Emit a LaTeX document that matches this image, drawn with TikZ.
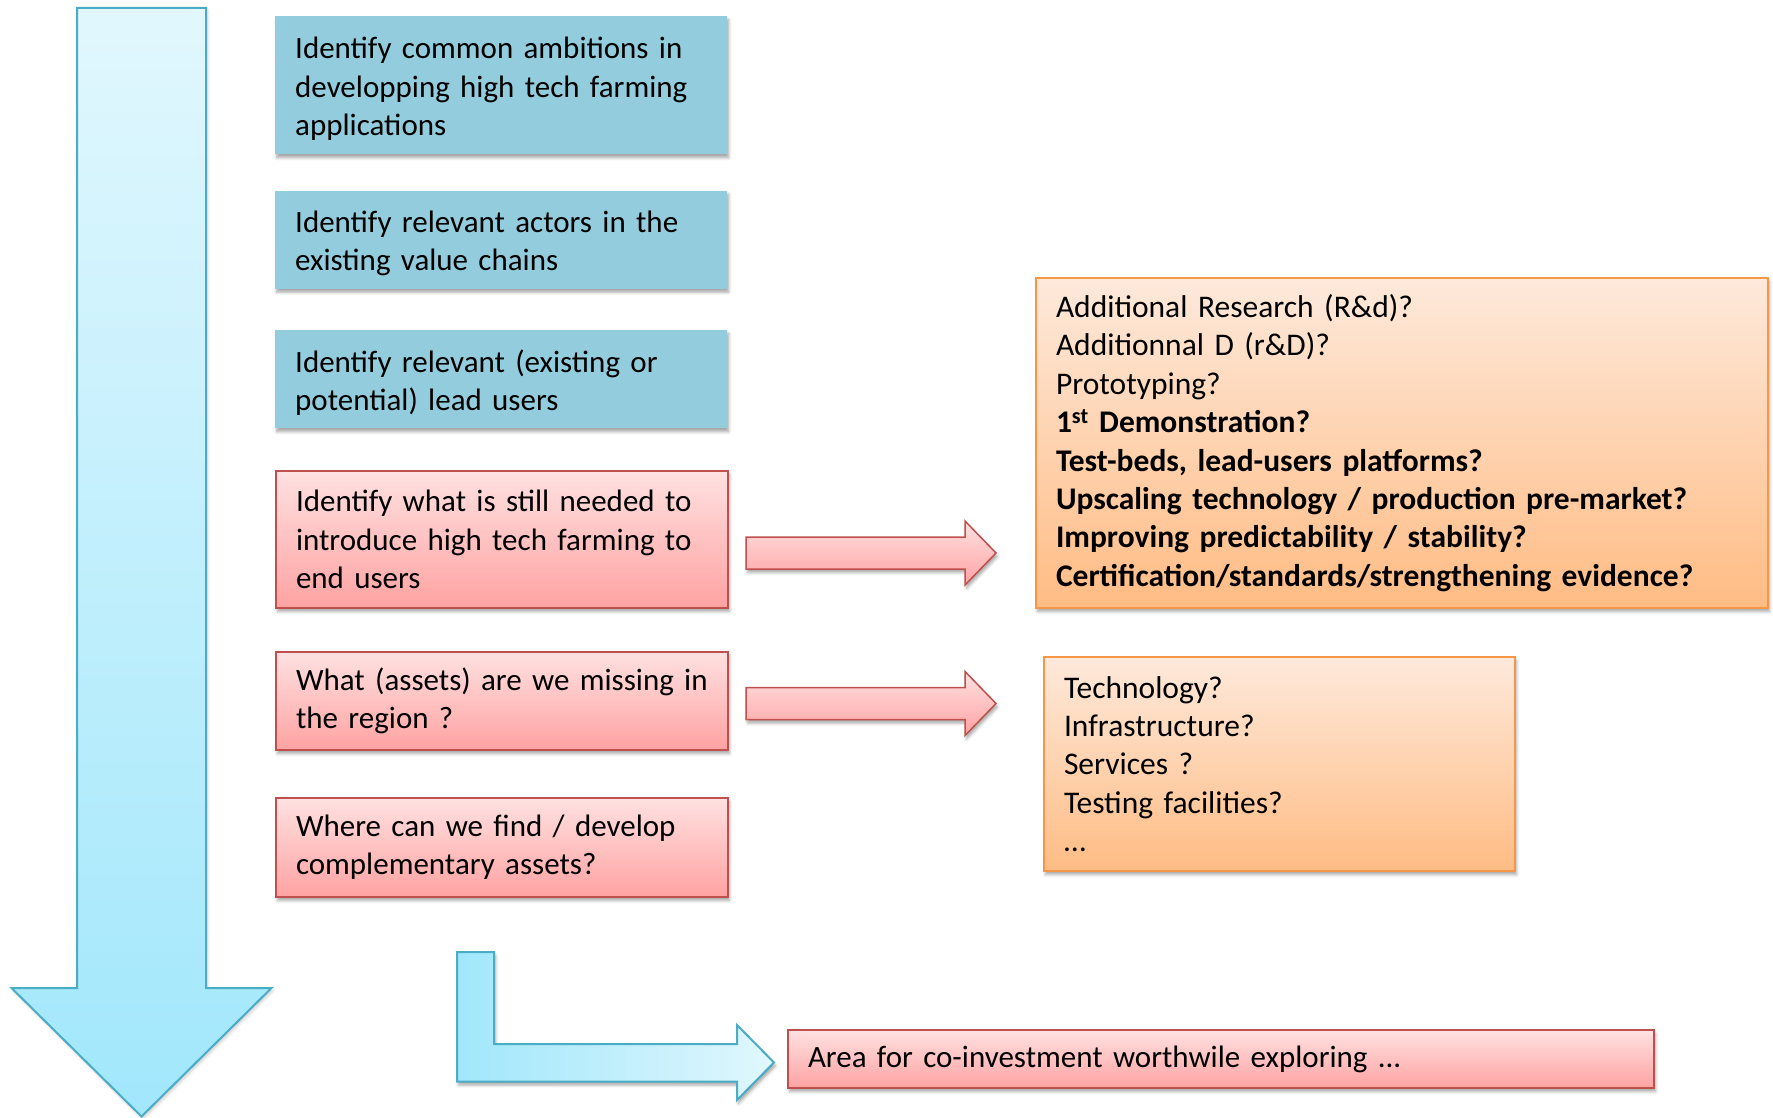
\documentclass[tikz,border=0pt]{standalone}
\usepackage{fontspec}
\setmainfont{Carlito}
\usetikzlibrary{shadows.blur}

\definecolor{aqua}{HTML}{93CDDD}
\definecolor{redline}{HTML}{C0504D}
\definecolor{redtop}{HTML}{FFE1E1}
\definecolor{redbot}{HTML}{FFA2A2}
\definecolor{orline}{HTML}{F79646}
\definecolor{ortop}{HTML}{FEE9DB}
\definecolor{orbot}{HTML}{FFBC84}
\definecolor{cyanline}{HTML}{4BACC6}
\definecolor{cyanlight}{HTML}{E1F7FD}
\definecolor{cyandeep}{HTML}{A1E7FC}

\tikzset{
  softshadow/.style={blur shadow={shadow xshift=1.5pt, shadow yshift=-3.5pt,
      shadow blur radius=3pt, shadow opacity=35}},
  card/.style={softshadow, align=left, anchor=north west, inner xsep=20pt,
      inner ysep=0pt, text=black, font=\fontsize{31}{38.4}\selectfont},
  bluecard/.style={card, fill=aqua, execute at begin node={\rule{0pt}{29pt}}},
  redcard/.style={card, draw=redline, line width=2pt, top color=redtop, bottom color=redbot},
  orangecard/.style={card, draw=orline, line width=2pt, top color=ortop, bottom color=orbot,
      font=\fontsize{31.5}{38.4}\selectfont},
  redarrow/.style={draw=redline, line width=1.5pt, top color=redtop, bottom color=redbot,
      softshadow, line join=miter},
  cyanarrow/.style={draw=cyanline, line width=2pt, line join=miter},
}

\begin{document}
\begin{tikzpicture}[x=1pt, y=-1pt]
\useasboundingbox (0,0) rectangle (1773,1118);

% main downward process arrow
\path[cyanarrow, top color=cyanlight, bottom color=cyandeep,
      blur shadow={shadow xshift=1.5pt, shadow yshift=-2.5pt, shadow blur radius=3pt, shadow opacity=20}]
  (77,8) -- (206,8) -- (206,988) -- (271.5,988) -- (141.5,1116.5)
  -- (11.5,988) -- (77,988) -- cycle;

% step cards
\node[bluecard, minimum width=452pt, text width=412pt, minimum height=138pt] (s1) at (275,16)
  {Identify common ambitions in\\developping high tech farming\\applications};
\node[bluecard, minimum width=452pt, text width=412pt, minimum height=98pt] (s2) at (275,190.5)
  {Identify relevant actors in the\\existing value chains};
\node[bluecard, minimum width=452pt, text width=412pt, minimum height=98pt] (s3) at (275,330)
  {Identify relevant (existing or\\potential) lead users};
\node[redcard, minimum width=452pt, text width=412pt, minimum height=137pt] (s4) at (275,470)
  {Identify what is still needed to\\introduce high tech farming to\\end users};
\node[redcard, minimum width=452pt, text width=412pt, minimum height=98pt] (s5) at (275,651)
  {What (assets) are we missing in\\the region ?};
\node[redcard, minimum width=452pt, text width=412pt, minimum height=99pt] (s6) at (275,797)
  {Where can we find / develop\\complementary assets?};

% answer cards
\node[orangecard, minimum width=732pt, text width=692pt, minimum height=330pt] (needs) at (1035,277)
  {Additional Research (R\&d)?\\
   Additionnal D (r\&D)?\\
   Prototyping?\\
   \textbf{1\textsuperscript{st} Demonstration?}\\
   \textbf{Test-beds, lead-users platforms?}\\
   \textbf{Upscaling technology / production pre-market?}\\
   \textbf{Improving predictability / stability?}\\
   \textbf{Certification/standards/strengthening evidence?}};
\node[orangecard, minimum width=471pt, text width=431pt, minimum height=214pt] (assets) at (1043,656)
  {Technology?\\Infrastructure?\\Services ?\\Testing facilities?\\\ldots};
\node[redcard, minimum width=866pt, text width=826pt, minimum height=58pt] (area) at (787,1029)
  {Area for co-investment worthwile exploring ...};

% block arrows from the questions to their answers
\path[redarrow] (746,537) -- (965,537) -- (965,521) -- (996,553) -- (965,585)
  -- (965,569) -- (746,569) -- cycle;
\path[redarrow] (746,687.5) -- (965,687.5) -- (965,671.5) -- (996,703.5) -- (965,735.5)
  -- (965,719.5) -- (746,719.5) -- cycle;

% bent arrow towards the co-investment area
\path[cyanarrow, softshadow, left color=cyandeep, right color=cyanlight]
  (457,952) -- (494,952) -- (494,1044) -- (737,1044) -- (737,1025) -- (774,1062.5)
  -- (737,1100) -- (737,1081.5) -- (457,1081.5) -- cycle;
\end{tikzpicture}
\end{document}
